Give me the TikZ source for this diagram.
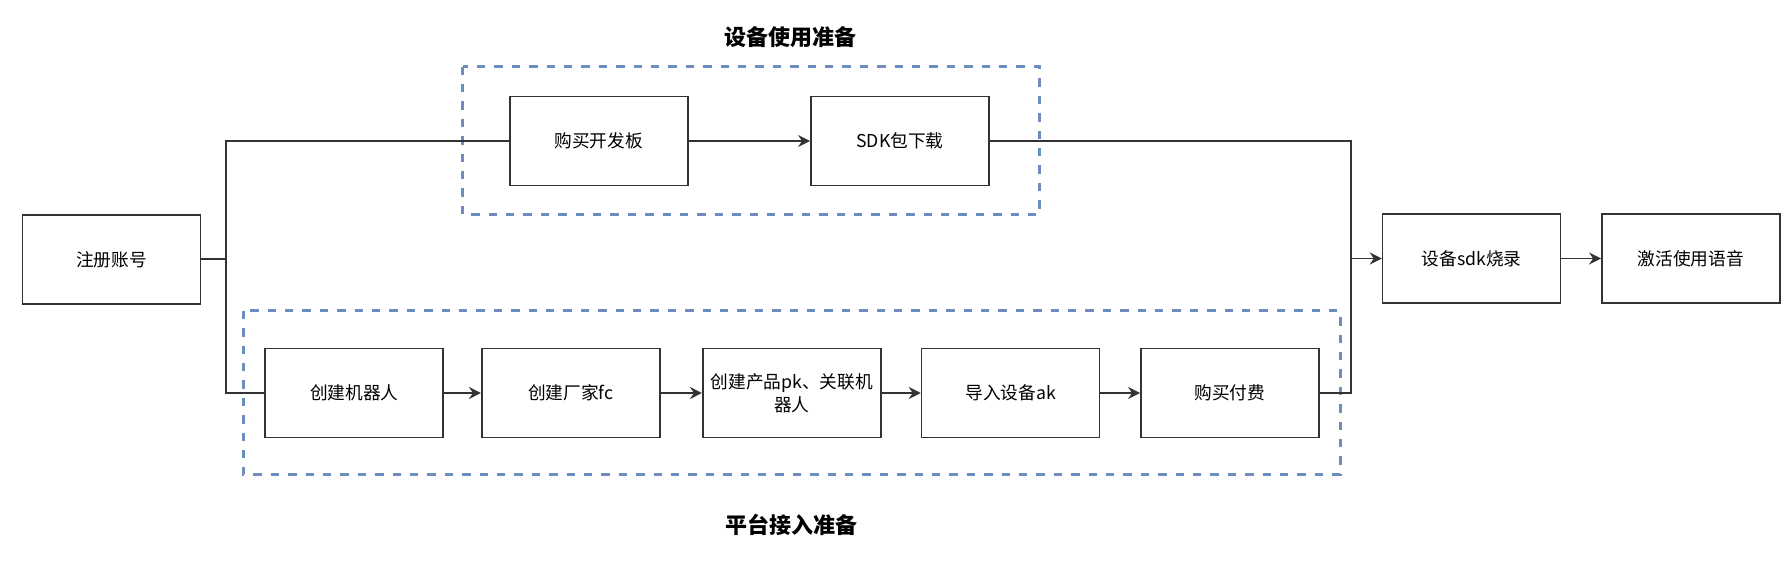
\documentclass[tikz,border=0pt]{standalone}
\usepackage{fontspec}
\setmainfont{Noto Sans CJK SC}
\usetikzlibrary{arrows.meta}
\definecolor{groupblue}{HTML}{6C8EBF}
\definecolor{wiregray}{HTML}{333333}
\begin{document}
\begin{tikzpicture}[x=0.5pt, y=-0.5pt,
  stepbox/.style={rectangle, draw=wiregray, line width=0.85pt, fill=white,
                  minimum width=89pt, minimum height=44.5pt, inner sep=0pt,
                  text centered, align=center, font=\fontsize{8.85}{11.3}\selectfont},
  group/.style={draw=groupblue, line width=1.5pt, dash pattern=on 4.2pt off 4.5pt},
  title/.style={font=\fontsize{11}{13}\selectfont\bfseries},
  wire/.style={line width=0.85pt, wiregray},
  arr/.style={wire, -{Stealth[length=6pt, width=6pt, inset=2pt]}},
]
\useasboundingbox (0,0) rectangle (1790,568);
% groups
\draw[group] (462.6,66.5) rectangle (1039.4,214.5);
\draw[group] (243,310.7) rectangle (1340,474.3);
\node[title] (tdev) at (790.6,36.7) {设备使用准备};
\node[title] (tplat) at (791.4,525) {平台接入准备};
% steps
\node[stepbox] (reg)     at (111.6,259.3) {注册账号};
\node[stepbox] (buy)     at (598.7,141)   {购买开发板};
\node[stepbox] (sdk)     at (899.9,141)   {SDK包下载};
\node[stepbox] (robot)   at (354.3,393)   {创建机器人};
\node[stepbox] (vendor)  at (570.8,393)   {创建厂家fc};
\node[stepbox] (product) at (791.8,393)   {创建产品pk、关联机\\器人};
\node[stepbox] (import)  at (1010.6,393)  {导入设备ak};
\node[stepbox] (pay)     at (1229.9,393)  {购买付费};
\node[stepbox] (burn)    at (1471.6,258.5) {设备sdk烧录};
\node[stepbox] (voice)   at (1690.9,258.5) {激活使用语音};
\coordinate (split) at (225.7,259.3);
\coordinate (join)  at (1351,258.5);
% connectors
\draw[wire] (reg) -- (split); \draw[wire] (split) |- (buy); \draw[wire] (split) |- (robot);
\draw[arr] (buy) -- (sdk);
\draw[arr] (robot) -- (vendor); \draw[arr] (vendor) -- (product); \draw[arr] (product) -- (import); \draw[arr] (import) -- (pay);
\draw[wire] (sdk) -| (join); \draw[wire] (pay) -| (join);
\draw[arr] (join) -- (burn); \draw[arr] (burn) -- (voice);
\end{tikzpicture}
\end{document}
